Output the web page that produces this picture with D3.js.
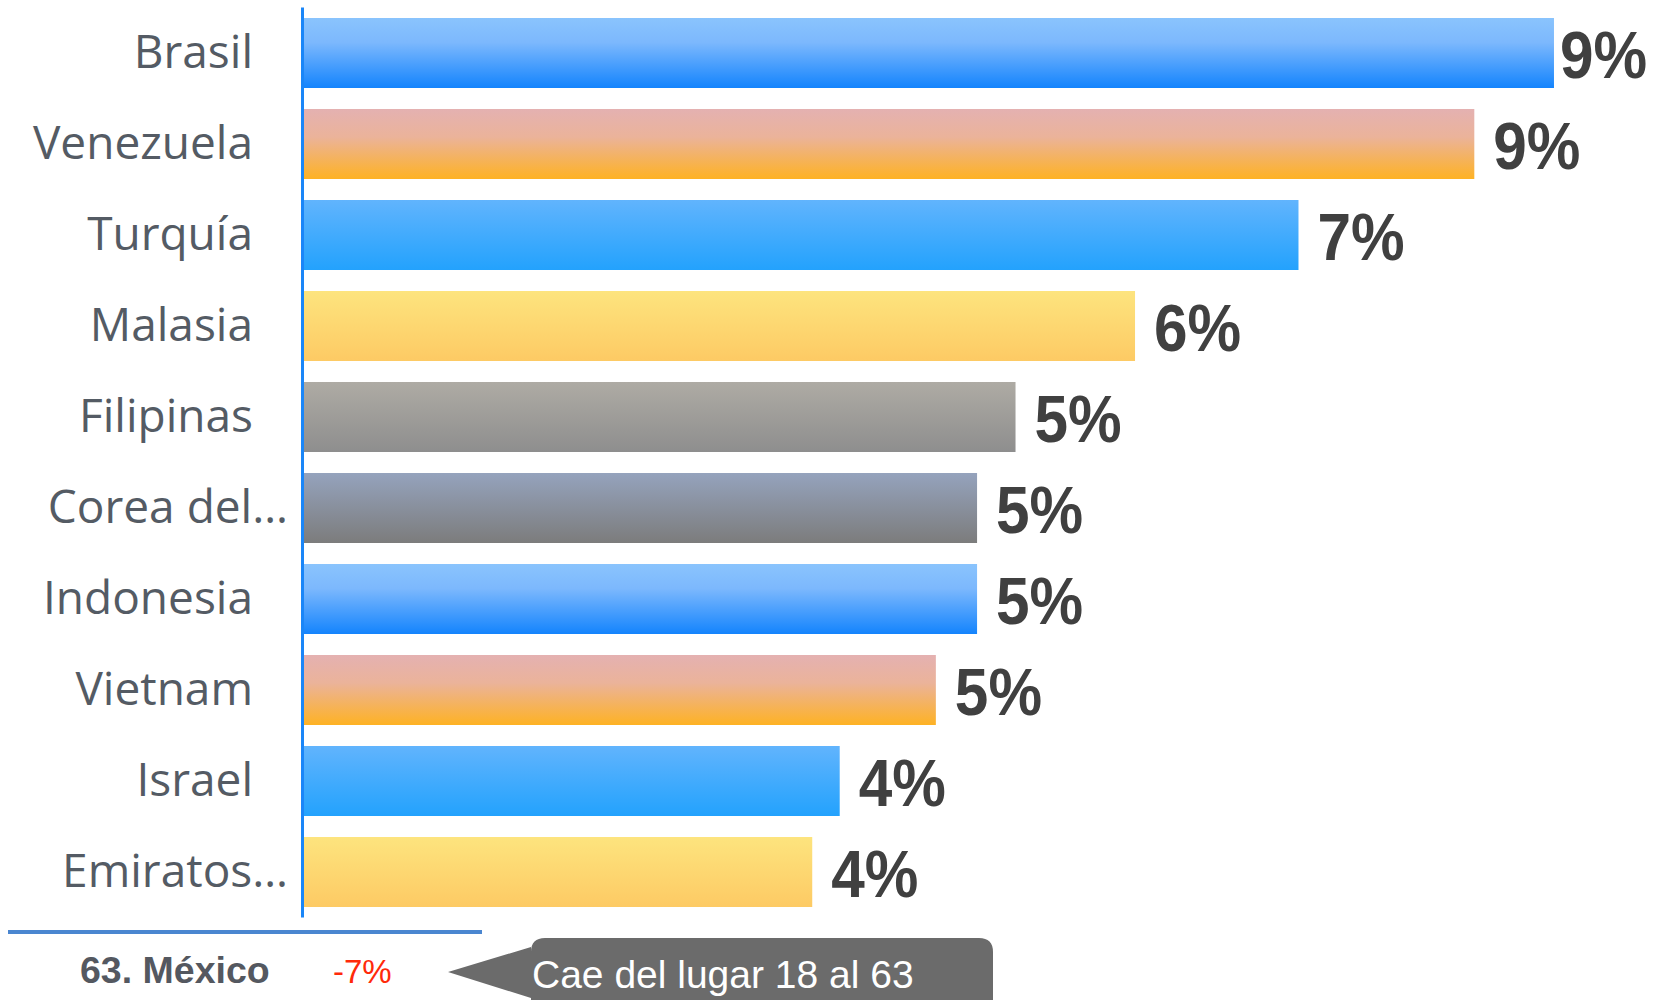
<!DOCTYPE html>
<html>
<head>
<meta charset="utf-8">
<script src="https://cdn.jsdelivr.net/npm/d3@7/dist/d3.min.js"></script>
<style>
  html, body { margin: 0; padding: 0; background: #fff; }
  svg { display: block; }
</style>
</head>
<body>
<div id="chart"></div>
<script>
(function() {
    'use strict';

    // datos
    var countries = ['Brasil', 'Venezuela', 'Turquía', 'Malasia', 'Filipinas', 'Corea del…', 'Indonesia', 'Vietnam', 'Israel', 'Emiratos…'];
    var values = [9.1, 8.52, 7.24, 6.05, 5.18, 4.9, 4.9, 4.6, 3.9, 3.7];
    var fills = ['blue', 'orange', 'sky', 'yellow', 'gray', 'slate', 'blue', 'orange', 'sky', 'yellow'];

    var footRank = '63. México';
    var footValue = '-7%';
    var footNote = 'Cae del lugar 18 al 63';

    // degradados (arriba -> abajo)
    var palette = {
        blue:   [['0%', '#8ac4fd'], ['35%', '#7cb8fd'], ['100%', '#1484fd']],
        orange: [['0%', '#e4b1b1'], ['40%', '#ebb39a'], ['100%', '#feb224']],
        sky:    [['0%', '#61b4fd'], ['100%', '#23a2fd']],
        yellow: [['0%', '#fde47e'], ['100%', '#fdca64']],
        gray:   [['0%', '#aeaba4'], ['100%', '#8e8e8e']],
        slate:  [['0%', '#95a3bd'], ['100%', '#7c7c7c']]
    };

    var width = 1655, height = 1000;

    var svg = d3.select('#chart').append('svg')
        .attr('width', width).attr('height', height);

    var defs = svg.append('defs');
    Object.keys(palette).forEach(function(k) {
        var g = defs.append('linearGradient').attr('id', 'g-' + k)
            .attr('x1', 0).attr('y1', 0).attr('x2', 0).attr('y2', 1);
        palette[k].forEach(function(s) {
            g.append('stop').attr('offset', s[0]).attr('stop-color', s[1]);
        });
    });

    var x = d3.scaleLinear().domain([0, 10]).range([304, 1677.6]);
    var y = d3.scaleBand().domain(countries).range([7.5, 917.5])
        .paddingInner(0.2308).paddingOuter(0.1154);

    var rows = countries.map(function(c, i) {
        return {name: c, value: values[i], fill: fills[i]};
    });

    // barras
    svg.append('g').selectAll('rect')
        .data(rows).enter().append('rect')
        .attr('x', x(0))
        .attr('y', function(d) { return y(d.name); })
        .attr('width', function(d) { return x(d.value) - x(0); })
        .attr('height', y.bandwidth())
        .attr('fill', function(d) { return 'url(#g-' + d.fill + ')'; });

    // eje vertical
    svg.append('line')
        .attr('x1', 302.5).attr('x2', 302.5)
        .attr('y1', y.range()[0]).attr('y2', y.range()[1])
        .attr('stroke', '#1a86f8').attr('stroke-width', 3);

    // etiquetas de categoria
    svg.append('g').selectAll('text')
        .data(rows).enter().append('text')
        .attr('x', function(d) { return d.name.slice(-1) === '…' ? 288 : 253; })
        .attr('y', function(d) { return y(d.name) + y.bandwidth() / 2 + 15; })
        .attr('text-anchor', 'end')
        .attr('font-family', '"Open Sans", "Noto Sans", sans-serif')
        .attr('font-size', '46px')
        .attr('fill', '#545b64')
        .text(function(d) { return d.name; });

    // valores (si no caben, se pegan a la barra)
    svg.append('g').selectAll('text')
        .data(rows).enter().append('text')
        .attr('transform', function(d) {
            var lx = Math.min(x(d.value) + 19, width - 95);
            return 'translate(' + lx + ',' + (y(d.name) + y.bandwidth() / 2 + 25) + ') scale(0.9,1)';
        })
        .attr('font-family', '"Liberation Sans", Arial, sans-serif')
        .attr('font-weight', 'bold')
        .attr('font-size', '67px')
        .attr('fill', '#404040')
        .text(function(d) { return Math.round(d.value) + '%'; });

    // pie: linea, Mexico y nota
    svg.append('line')
        .attr('x1', 8).attr('x2', 482)
        .attr('y1', 932).attr('y2', 932)
        .attr('stroke', '#4a86d0').attr('stroke-width', 4);

    svg.append('text')
        .attr('x', 80).attr('y', 983)
        .attr('font-family', '"Liberation Sans", Arial, sans-serif')
        .attr('font-weight', 'bold')
        .attr('font-size', '37.5px')
        .attr('fill', '#545860')
        .text(footRank);

    svg.append('text')
        .attr('x', 333).attr('y', 983)
        .attr('font-family', '"Liberation Sans", Arial, sans-serif')
        .attr('font-size', '33px')
        .attr('fill', '#ff2a0a')
        .text(footValue);

    // globo con flecha
    var bx = 531, by = 938, bw = 462, bh = 80, r = 14;
    var callout = d3.path();
    callout.moveTo(bx + r, by);
    callout.lineTo(bx + bw - r, by);
    callout.quadraticCurveTo(bx + bw, by, bx + bw, by + r);
    callout.lineTo(bx + bw, by + bh);
    callout.lineTo(bx, by + bh);
    callout.lineTo(bx, 998);
    callout.lineTo(448, 972);
    callout.lineTo(bx, 947);
    callout.lineTo(bx, by + r);
    callout.quadraticCurveTo(bx, by, bx + r, by);
    callout.closePath();
    svg.append('path').attr('d', callout.toString()).attr('fill', '#6b6b6b');

    svg.append('text')
        .attr('x', 532).attr('y', 988)
        .attr('font-family', '"Liberation Sans", Arial, sans-serif')
        .attr('font-size', '39px')
        .attr('fill', '#ffffff')
        .text(footNote);
})();
</script>
</body>
</html>
